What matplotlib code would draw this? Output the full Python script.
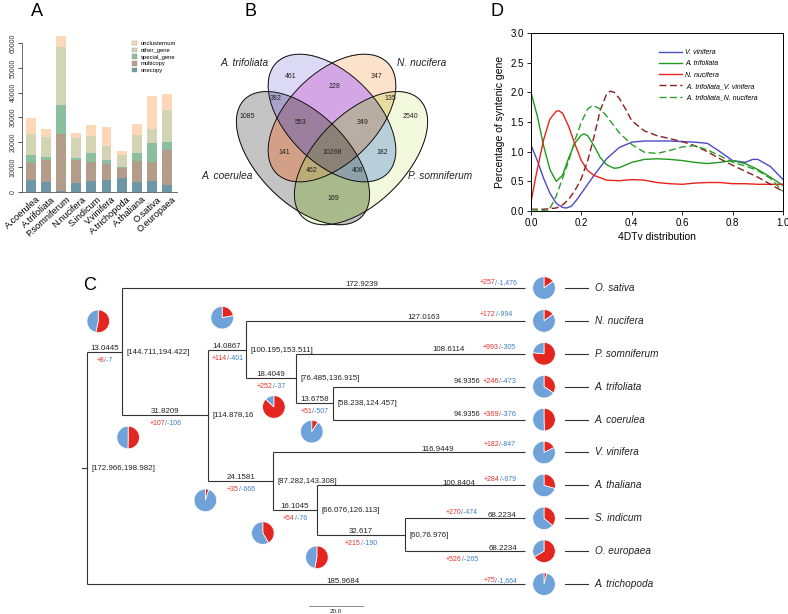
import numpy as np
import matplotlib
matplotlib.use('Agg')
import matplotlib.pyplot as plt
from matplotlib.patches import Ellipse, Patch
from matplotlib.lines import Line2D
import matplotlib.transforms as mtransforms
from matplotlib.colors import to_rgba

plt.rcParams['font.family'] = ['Liberation Sans', 'DejaVu Sans']
plt.rcParams['axes.linewidth'] = 0.7

# ======================= DATA =======================
# ---- Panel A: gene family composition ----
a_species = ['A.coerulea', 'A.trifoliata', 'P.somniferum', 'N.nucifera', 'S.indicum',
             'V.vinifera', 'A.trichopoda', 'A.thaliana', 'O.sativa', 'O.europaea']
a_onecopy = [4750, 4050, 400, 3650, 4250, 4900, 5750, 4200, 4600, 2950]
a_multicopy = [6800, 8900, 22800, 9400, 7800, 6200, 4000, 8300, 7500, 13850]
a_special = [3500, 1100, 12000, 600, 3600, 1700, 400, 3200, 7600, 3400]
a_other = [8200, 8050, 23200, 7900, 7100, 5900, 4800, 7100, 5800, 12800]
a_unclust = [6600, 3300, 4500, 2300, 4100, 7300, 1700, 4500, 13200, 6600]
a_layer_names = ['onecopy', 'multicopy', 'special_gene', 'other_gene', 'unclusternum']
a_yticks = [0, 10000, 20000, 30000, 40000, 50000, 60000]

# ---- Panel B: Venn ----
venn_sets = ['A. coerulea', 'A. trifoliata', 'N. nucifera', 'P. somniferum']
venn_keys = ['T', 'N', 'C', 'P', 'CT', 'NP', 'TN', 'CN', 'CP', 'TP',
             'CTN', 'TNP', 'CNP', 'CTP', 'CTNP']
venn_counts = [461, 347, 1085, 2540, 382, 135, 228, 141, 169, 182,
               553, 349, 462, 408, 10268]

# ---- Panel C: tree ----
tip_names = ['O. sativa', 'N. nucifera', 'P. somniferum', 'A. trifoliata', 'A. coerulea',
             'V. vinifera', 'A. thaliana', 'S. indicum', 'O. europaea', 'A. trichopoda']
tip_branch = [172.9239, 127.0163, 108.6114, 94.9356, 94.9356,
              116.9449, 100.8404, 68.2234, 68.2234, 185.9684]
tip_gain = [257, 172, 993, 246, 369, 182, 284, 270, 526, 75]
tip_loss = [1476, 994, 305, 473, 376, 847, 679, 474, 265, 1664]

node_names = ['root', 'N1', 'N2', 'N3', 'N4', 'N5', 'N6', 'N7', 'N8']
node_children = [['N1', 'A. trichopoda'], ['O. sativa', 'N2'], ['N3', 'N6'],
                 ['N. nucifera', 'N4'], ['P. somniferum', 'N5'],
                 ['A. trifoliata', 'A. coerulea'], ['V. vinifera', 'N7'],
                 ['A. thaliana', 'N8'], ['S. indicum', 'O. europaea']]
node_branch = [None, 13.0445, 31.8209, 14.0867, 18.4049, 13.6758, 24.1581, 16.1045, 32.617]
node_interval = ['[172.966,198.982]', '[144.711,194.422]', '[114.878,16', '[100.195,153.511]',
                 '[76.485,136.915]', '[58.238,124.457]', '[87.282,143.308]',
                 '[66.076,126.113]', '[60,76.976]']
node_gain = [None, 8, 107, 114, 252, 51, 35, 54, 215]
node_loss = [None, 7, 106, 401, 37, 507, 666, 76, 190]
scale_bar_len = 20.0

# ---- Panel D: 4DTv ----
vv_x = [0, 0.025, 0.05, 0.075, 0.1, 0.125, 0.14, 0.16, 0.18, 0.2, 0.225, 0.25, 0.3, 0.35, 0.4,
        0.45, 0.5, 0.55, 0.6, 0.65, 0.7, 0.75, 0.8, 0.85, 0.88, 0.9, 0.95, 1.0]
vv_y = [1.11, 0.85, 0.55, 0.3, 0.13, 0.06, 0.05, 0.08, 0.18, 0.3, 0.45, 0.6, 0.88, 1.07, 1.16,
        1.18, 1.18, 1.18, 1.17, 1.16, 1.14, 1.0, 0.85, 0.82, 0.87, 0.87, 0.75, 0.53]
at_x = [0, 0.025, 0.05, 0.075, 0.1, 0.125, 0.15, 0.175, 0.2, 0.21, 0.225, 0.25, 0.275, 0.3, 0.33,
        0.35, 0.4, 0.45, 0.5, 0.55, 0.6, 0.65, 0.7, 0.75, 0.8, 0.85, 0.9, 0.95, 1.0]
at_y = [2.0, 1.6, 1.1, 0.7, 0.5, 0.6, 0.9, 1.15, 1.28, 1.3, 1.27, 1.1, 0.9, 0.78, 0.72,
        0.73, 0.82, 0.87, 0.88, 0.87, 0.85, 0.82, 0.8, 0.82, 0.85, 0.8, 0.7, 0.57, 0.43]
nn_x = [0, 0.02, 0.05, 0.075, 0.1, 0.11, 0.125, 0.15, 0.175, 0.2, 0.225, 0.25, 0.3, 0.35, 0.4,
        0.45, 0.5, 0.55, 0.6, 0.65, 0.7, 0.75, 0.8, 0.85, 0.9, 0.95, 1.0]
nn_y = [0.15, 0.6, 1.2, 1.55, 1.68, 1.69, 1.65, 1.42, 1.12, 0.85, 0.68, 0.6, 0.52, 0.51, 0.53,
        0.52, 0.48, 0.46, 0.45, 0.47, 0.48, 0.48, 0.46, 0.46, 0.45, 0.45, 0.45]
atvv_x = [0, 0.05, 0.1, 0.125, 0.15, 0.175, 0.2, 0.225, 0.25, 0.275, 0.3, 0.315, 0.33, 0.35,
          0.375, 0.4, 0.45, 0.5, 0.55, 0.6, 0.65, 0.7, 0.75, 0.8, 0.85, 0.9, 0.95, 1.0]
atvv_y = [0.03, 0.03, 0.05, 0.1, 0.2, 0.35, 0.55, 0.85, 1.25, 1.7, 1.97, 2.02, 2.0, 1.9,
          1.72, 1.52, 1.35, 1.27, 1.22, 1.17, 1.1, 1.0, 0.88, 0.77, 0.67, 0.57, 0.45, 0.33]
atnn_x = [0, 0.05, 0.07, 0.1, 0.125, 0.15, 0.175, 0.2, 0.225, 0.245, 0.275, 0.3, 0.35, 0.4,
          0.45, 0.5, 0.55, 0.6, 0.65, 0.7, 0.75, 0.8, 0.85, 0.9, 0.95, 1.0]
atnn_y = [0.02, 0.01, 0.0, 0.25, 0.55, 0.85, 1.2, 1.5, 1.72, 1.78, 1.72, 1.6, 1.32, 1.12,
          0.99, 0.97, 1.02, 1.08, 1.1, 1.03, 0.93, 0.82, 0.76, 0.68, 0.55, 0.33]
d_labels = ['V. vinifera', 'A. trifoliata', 'N. nucifera',
            ' A. trifoliata_V. vinifera', ' A. trifoliata_N. nucifera']

# ======================= FIGURE =======================
W, H = 788, 614
fig = plt.figure(figsize=(W / 100, H / 100), dpi=100)
PX = mtransforms.Affine2D().scale(1, -1).translate(0, H)   # pixel coords, origin top-left


def px_axes(x0, y0, x1, y1, **kw):
    return fig.add_axes([x0 / W, 1 - y1 / H, (x1 - x0) / W, (y1 - y0) / H], **kw)


def panel_letter(s, x, y):
    fig.text(x, y, s, transform=PX, fontsize=13, ha='center', va='center')


# ---------------- Panel A ----------------
axA = px_axes(22, 43, 177, 192)
a_colors = ['#6d97a6', '#b39c8a', '#8cbfa0', '#d3d4b3', '#fdd8b8']
idx = np.arange(len(a_species))
bottom = np.zeros(len(a_species))
handles = []
for vals, col, nm in zip([a_onecopy, a_multicopy, a_special, a_other, a_unclust],
                         a_colors, a_layer_names):
    axA.bar(idx, vals, width=0.66, bottom=bottom, color=col, linewidth=0, clip_on=False)
    bottom += np.array(vals)
    handles.append(Patch(facecolor=col, edgecolor='#999999', linewidth=0.3, label=nm))
axA.set_xlim(-0.6, 9.67)
axA.set_ylim(0, 60000)
for s in ['top', 'right']:
    axA.spines[s].set_visible(False)
axA.spines['left'].set_bounds(0, 60000)
for s in ['left', 'bottom']:
    axA.spines[s].set_color('#555555')
    axA.spines[s].set_linewidth(0.6)
axA.set_yticks(a_yticks)
axA.set_yticklabels([str(v) for v in a_yticks], rotation=90, va='center', fontsize=5)
axA.tick_params(axis='y', length=3, width=0.6, pad=1, colors='#333333')
axA.set_xticks(idx)
axA.set_xticklabels(a_species, rotation=42, ha='right', va='top', rotation_mode='anchor',
                    fontsize=6.6)
axA.tick_params(axis='x', length=0, pad=2)
for lab in axA.get_xticklabels():
    lab.set_transform(lab.get_transform() + mtransforms.Affine2D().translate(5, 0))
axA.legend(handles=handles[::-1], loc='upper left', bbox_to_anchor=(132 / W, 1 - 41 / H),
           bbox_transform=fig.transFigure, fontsize=4.2, frameon=False, handlelength=0.8,
           handleheight=0.8, handletextpad=0.7, labelspacing=0.25, borderpad=0,
           borderaxespad=0)
panel_letter('A', 37, 12)

# ---------------- Panel B ----------------
axB = px_axes(220, 21.7, 444, 245.7)
venn_geom = [(0.3705, 0.391, -45, 0.37, 0.2), (0.5, 0.57, -45, 0.35, 0.2),
             (0.5, 0.57, 45, 0.35, 0.2), (0.6295, 0.391, 45, 0.37, 0.2)]
letters = 'CTNP'
region_colors = {'C': '#c4c4c4', 'T': '#dcdaf5', 'N': '#fde2cb', 'P': '#f3f9dc',
                 'CT': '#a8a3cb', 'CN': '#d3a088', 'TN': '#d5a7e5', 'CP': '#a9ba8c',
                 'TP': '#b8cfdb', 'NP': '#e8dba0', 'CTN': '#9c7f9e', 'CTP': '#8ea2ab',
                 'CNP': '#bbad78', 'TNP': '#b9aea3', 'CTNP': '#8c8176'}
ng = 900
g = (np.arange(ng) + 0.5) / ng
uu, vv = np.meshgrid(g, g)
code = np.zeros(uu.shape, dtype=int)
for bit, (cx, cy, ang, ea, eb) in enumerate(venn_geom):
    t = np.deg2rad(ang)
    dx, dy = uu - cx, vv - cy
    p = dx * np.cos(t) + dy * np.sin(t)
    q = -dx * np.sin(t) + dy * np.cos(t)
    code |= (((p / ea) ** 2 + (q / eb) ** 2) <= 1).astype(int) << bit
img = np.zeros(uu.shape + (4,))
for key, col in region_colors.items():
    c = sum(1 << letters.index(ch) for ch in key)
    img[code == c] = to_rgba(col)
axB.imshow(img, extent=(0, 1, 0, 1), origin='lower', interpolation='antialiased', zorder=1)
for (cx, cy, ang, ea, eb) in venn_geom:
    axB.add_patch(Ellipse((cx, cy), 2 * ea, 2 * eb, angle=ang, fill=False, ec='#111111',
                          lw=0.7, zorder=2))
axB.set_xlim(0, 1)
axB.set_ylim(0, 1)
axB.axis('off')
venn_label_px = {'T': (291, 77), 'TN': (335, 87), 'N': (377, 77), 'CT': (276, 98),
                 'NP': (390, 98), 'C': (247, 116), 'CTN': (301, 122), 'TNP': (363, 122),
                 'P': (410, 116), 'CN': (284, 152), 'CTNP': (332, 152), 'TP': (382, 152),
                 'CNP': (312, 171), 'CTP': (358, 171), 'CP': (333, 199)}
for key, cnt in zip(venn_keys, venn_counts):
    x, y = venn_label_px[key]
    fig.text(x, y, str(cnt), transform=PX, fontsize=5, ha='center', va='center',
             color='#222222')
venn_set_px = [(227, 176, 'center'), (245, 63, 'center'), (422, 63, 'center'),
               (408, 176, 'left')]
for nm, (x, y, ha) in zip(venn_sets, venn_set_px):
    fig.text(x, y, nm, transform=PX, fontsize=7.3, style='italic', ha=ha, va='center',
             color='#222222')
panel_letter('B', 250, 11)

# ---------------- Panel D ----------------
axD = px_axes(531, 33, 783, 211)
d_series = [(vv_x, vv_y, '#4b4bc4', '-'), (at_x, at_y, '#1f991f', '-'),
            (nn_x, nn_y, '#e8231b', '-'), (atvv_x, atvv_y, '#8b1c1c', (0, (5, 2.5))),
            (atnn_x, atnn_y, '#2aa02a', (0, (5, 2.5)))]
for (x, y, c, ls), lab in zip(d_series, d_labels):
    axD.plot(x, y, color=c, ls=ls, lw=1.0, label=lab)
axD.set_xlim(0, 1)
axD.set_ylim(0, 3)
axD.set_xticks(np.arange(0, 1.01, 0.2))
axD.set_xticklabels(['%.1f' % v for v in np.arange(0, 1.01, 0.2)])
axD.set_yticks(np.arange(0, 3.01, 0.5))
axD.set_yticklabels(['%.1f' % v for v in np.arange(0, 3.01, 0.5)])
axD.tick_params(length=3, width=0.6, labelsize=7, pad=2)
axD.set_xlabel('4DTv distribution', fontsize=7.5, labelpad=3)
axD.set_ylabel('Percentage of syntenic gene', fontsize=7.5, labelpad=4)
axD.legend(loc='upper left', bbox_to_anchor=(659 / W, 1 - 49 / H), bbox_transform=fig.transFigure,
           prop={'style': 'italic', 'size': 5}, frameon=False, handlelength=3.3,
           handletextpad=0.5, labelspacing=0.62, borderpad=0, borderaxespad=0)
panel_letter('D', 497, 11)

# ---------------- Panel C ----------------
PXU = 2.7            # pixels per Myr
X0 = 87              # root x (px)
Y0, DY = 288, 32.9   # first tip y (px), tip spacing (px)
axC = fig.add_axes([0, 0, 1, 1])
axC.set_xlim(-X0 / PXU, (W - X0) / PXU)
axC.set_ylim((H - Y0) / DY, -Y0 / DY)
axC.axis('off')
axC.patch.set_alpha(0)

parent = {}
for nm, ch in zip(node_names, node_children):
    for c in ch:
        parent[c] = nm
blen = dict(zip(tip_names, tip_branch))
blen.update({n: b for n, b in zip(node_names, node_branch) if b is not None})
children = dict(zip(node_names, node_children))
depth = {}
ypos = {}


def walk(n, d):
    depth[n] = d
    if n in children:
        for c in children[n]:
            walk(c, d + blen[c])
        ypos[n] = np.mean([ypos[c] for c in children[n]])
    else:
        ypos[n] = tip_names.index(n)


walk('root', 0.0)
tip_cut = (525 - X0) / PXU       # terminal branches are drawn up to this aligned position
LC = '#333333'
LW = 0.8
for n in node_names:
    ch = children[n]
    ys = [ypos[c] for c in ch]
    axC.plot([depth[n], depth[n]], [min(ys), max(ys)], color=LC, lw=LW, solid_capstyle='butt')
    for c in ch:
        axC.plot([depth[n], min(depth[c], tip_cut)], [ypos[c], ypos[c]], color=LC, lw=LW,
                 solid_capstyle='butt')
axC.plot([-5 / PXU, 0], [ypos['root']] * 2, color=LC, lw=LW)

RED = '#e3261f'
BLUE = '#6fa2d8'
TRED = '#e8302a'
TBLUE = '#3d7fc4'
renderer = fig.canvas.get_renderer()
IDT = mtransforms.IdentityTransform()


def to_disp(x, y):
    return axC.transData.transform((x, y))


def mtext(xd, yd, parts, align='center', dx=0.0, dy=0.0, fs=5.0, gaps=None):
    bx, by = to_disp(xd, yd)
    arts, widths = [], []
    for s, c in parts:
        t = fig.text(0, 0, s, color=c, fontsize=fs, ha='left', va='baseline', transform=IDT)
        arts.append(t)
        widths.append(t.get_window_extent(renderer).width)
    gaps = gaps or [0.0] * len(parts)
    total = sum(widths) + sum(gaps[:-1])
    if align == 'center':
        start = bx + dx - total / 2
    elif align == 'right':
        start = bx + dx - total
    else:
        start = bx + dx
    cur = start
    for t, w, gp in zip(arts, widths, gaps):
        t.set_position((cur, by - dy))
        cur += w + gp


def pie_at(xd, yd, gain, loss, dx=0.0, dy=0.0, r=11.5):
    bx, by = to_disp(xd, yd)
    cx, cy = bx + dx, by - dy
    a = fig.add_axes([(cx - r) / W, (cy - r) / H, 2 * r / W, 2 * r / H])
    a.pie([gain, loss], colors=[RED, BLUE], startangle=90, counterclock=False,
          wedgeprops=dict(linewidth=0.5, edgecolor='white'))
    a.set_xlim(-1.02, 1.02)
    a.set_ylim(-1.02, 1.02)
    a.set_aspect('equal')
    a.axis('off')


NUMFS = 5.7
GLFS = 5.0
# internal branches
node_pie_off = {'N1': (-24, -30.5), 'N2': (-80, 22), 'N3': (-24, -32), 'N4': (-22, 28.5),
                'N5': (-21, 28.5), 'N6': (-68, 19), 'N7': (-54, 23), 'N8': (-88, 22.5)}
for n, br, iv, gn, ls in zip(node_names, node_branch, node_interval, node_gain, node_loss):
    mtext(depth[n], ypos[n], [(iv, '#222222')], align='left', dx=4.5, dy=2.0, fs=NUMFS)
    if br is None:
        continue
    mid = depth[n] - br / 2
    mtext(mid, ypos[n], [(str(br), '#222222')], align='center', dy=-2.0, fs=NUMFS)
    mtext(mid, ypos[n], [('+%d' % gn, TRED), ('/-%s' % format(ls, ','), TBLUE)],
          align='center', dy=10.0, fs=GLFS)
    ox, oy = node_pie_off[n]
    pie_at(depth[n], ypos[n], gn, ls, dx=ox, dy=oy)

# tips
tip_num_dx = [-147, -85, -60, None, None, -71, -50, -9, -8, -165]
tip_num_dy = [-2.5, -1.5, -2.5, 0, 0, -1.5, -0.5, -1.5, -1.5, -1.5]
tip_gl_dx = [-8, -13, -10, -9, -9, -10, -9, -48, -47, -8]
tip_gl_dy = [-3.5, -4.5, -4.5, -3.5, -3.5, -6.5, -4.5, -4.5, 9.5, -2.5]
for i, nm in enumerate(tip_names):
    xe = min(depth[nm], tip_cut)
    y = ypos[nm]
    gl = [('+%d' % tip_gain[i], TRED), ('/-%s' % format(tip_loss[i], ','), TBLUE)]
    if tip_num_dx[i] is None:
        mtext(xe, y, [(str(tip_branch[i]), '#222222')] + gl, align='right',
              dx=tip_gl_dx[i], dy=tip_gl_dy[i], fs=GLFS + 0.3, gaps=[2.0, 0, 0])
    else:
        mtext(xe, y, [(str(tip_branch[i]), '#222222')], align='right', dx=tip_num_dx[i],
              dy=tip_num_dy[i], fs=NUMFS)
        mtext(xe, y, gl, align='right', dx=tip_gl_dx[i], dy=tip_gl_dy[i], fs=GLFS)
    pie_at(xe, y, tip_gain[i], tip_loss[i], dx=19)
    axC.plot([xe + 40 / PXU, xe + 63 / PXU], [y, y], color=LC, lw=LW)
    axC.text(xe + 70 / PXU, y, nm, fontsize=7.2, style='italic', ha='left', va='center',
             color='#222222')

# scale bar
sb_x = (309 - X0) / PXU
sb_y = (606 - Y0) / DY
axC.plot([sb_x, sb_x + scale_bar_len], [sb_y, sb_y], color='#777777', lw=0.6)
axC.text(sb_x + scale_bar_len / 2, sb_y + 0.08, '%.1f' % scale_bar_len, fontsize=4.5,
         ha='center', va='top', color='#222222')
panel_letter('C', 90, 285)

fig.savefig('out.png', dpi=100)
